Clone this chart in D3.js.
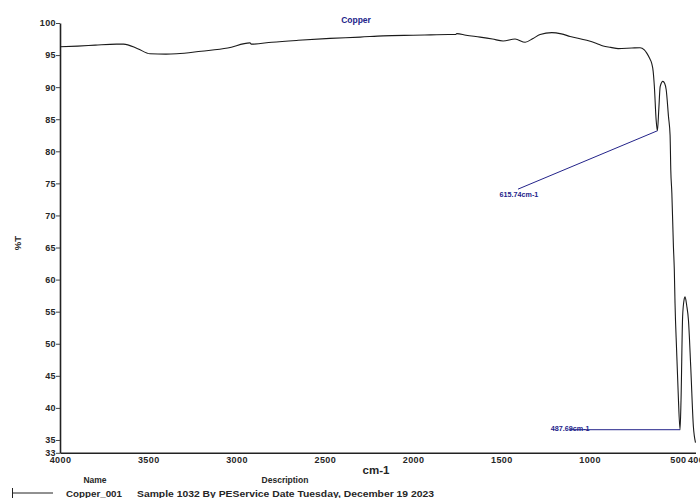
<!DOCTYPE html>
<html>
<head>
<meta charset="utf-8">
<script src="https://cdn.jsdelivr.net/npm/d3@7"></script>
<style>
  html, body { margin: 0; padding: 0; background: #fff; }
  svg { display: block; }
  text { font-family: "Liberation Sans", Arial, sans-serif; }
</style>
</head>
<body>
<svg id="chart" width="700" height="498"></svg>
<script>
// ---- data ----
const wavenumbers = [4000, 3900, 3800, 3680, 3640, 3560, 3490, 3400, 3339, 3200, 3050, 2924, 2915, 2800, 2650, 2470, 2300, 2170, 2000, 1900, 1800, 1760, 1752, 1700, 1620, 1550, 1490, 1422, 1365, 1320, 1280, 1214, 1160, 1110, 1016, 960, 923, 880, 838, 760, 714, 690, 676, 660, 648, 640, 633, 623, 615.74, 608, 600, 585, 575, 566, 553, 544, 540, 534, 525, 520, 516, 507, 498, 487.69, 482, 473, 465, 459, 450, 440, 427, 412, 400];
const transmittance = [96.3, 96.4, 96.55, 96.7, 96.7, 96.0, 95.2, 95.15, 95.2, 95.6, 96.1, 96.9, 96.7, 97.0, 97.3, 97.6, 97.8, 98.0, 98.1, 98.15, 98.2, 98.2, 98.35, 98.1, 97.8, 97.5, 97.2, 97.5, 97.0, 97.6, 98.2, 98.5, 98.3, 97.9, 97.3, 96.8, 96.4, 96.2, 96.0, 96.1, 96.15, 95.8, 95.3, 94.5, 93.7, 92.5, 90.1, 84.9, 83.2, 86.5, 90.1, 90.9, 90.6, 89.6, 85.4, 82.5, 77.1, 73.5, 65.1, 61.5, 56.3, 49.0, 42.3, 36.6, 41.2, 54.2, 56.8, 57.3, 56.0, 53.7, 46.4, 37.1, 34.6];
const yTicks = [33, 35, 40, 45, 50, 55, 60, 65, 70, 75, 80, 85, 90, 95, 100];
const xTicks = [4000, 3500, 3000, 2500, 2000, 1500, 1000, 500, 400];
const peakWavenumbers = [615.74, 487.69];
const peakValues = [83.2, 36.6];
const peakLabels = ["615.74cm-1", "487.69cm-1"];
const peakLabelWavenumbers = [1400, 1110];
const peakLabelValues = [74.1, 36.6];
const chartTitle = "Copper";
const legendNames = ["Copper_001"];
const legendDescriptions = ["Sample 1032 By PEService Date Tuesday, December 19 2023"];

// ---- layout ----
const svg = d3.select("#chart");
const x = d3.scaleLinear().domain([4000, 400]).range([60, 695.5]);
const y = d3.scaleLinear().domain([33, 100]).range([452.8, 23]);
const blue = "#23238a";
const ink = "#262626";

// axes
const yAxis = d3.axisLeft(y).tickValues(yTicks).tickSize(4).tickSizeOuter(0).tickFormat(d3.format("d"));
const gy = svg.append("g").attr("transform", "translate(60,0)").call(yAxis);
gy.select(".domain").attr("stroke", "#222").attr("stroke-width", 1.6);
gy.selectAll(".tick line").attr("stroke", "#444");
gy.selectAll(".tick text").attr("font-size", 9).attr("font-weight", "bold").attr("fill", ink)
  .attr("x", -4).attr("letter-spacing", 0.4);

const xAxis = d3.axisBottom(x).tickValues(xTicks).tickSize(0).tickSizeOuter(0).tickFormat(d3.format("d"));
const gx = svg.append("g").attr("transform", "translate(0,452.8)").call(xAxis);
gx.select(".domain").attr("stroke", "#222").attr("stroke-width", 1.6);
gx.selectAll(".tick text").attr("font-size", 9).attr("font-weight", "bold").attr("fill", ink)
  .attr("dy", "0.7em").attr("y", 4).attr("letter-spacing", 0.4);

// curve
const pts = wavenumbers.map((w, i) => [w, transmittance[i]]);
const line = d3.line().x(d => x(d[0])).y(d => y(d[1])).curve(d3.curveMonotoneX);
svg.append("path").datum(pts).attr("d", line)
  .attr("fill", "none").attr("stroke", "#1a1a1a").attr("stroke-width", 1.1);

// peak annotations
peakWavenumbers.forEach((w, i) => {
  const px = x(w), py = y(peakValues[i]);
  const lx = x(peakLabelWavenumbers[i]), ly = y(peakLabelValues[i]);
  svg.append("line").attr("x1", lx - 1).attr("y1", ly).attr("x2", px).attr("y2", py)
    .attr("stroke", blue).attr("stroke-width", 1);
  svg.append("text").attr("x", lx).attr("y", i === 0 ? ly + 8 : ly + 1).attr("text-anchor", "middle")
    .attr("font-size", 7.2).attr("font-weight", "bold").attr("fill", blue).text(peakLabels[i]);
});

// title
svg.append("text").attr("x", 356).attr("y", 23).attr("text-anchor", "middle")
  .attr("font-size", 8.5).attr("font-weight", "bold").attr("fill", blue).text(chartTitle);

// axis labels
svg.append("text").attr("transform", "translate(21,243) rotate(-90)").attr("text-anchor", "middle")
  .attr("font-size", 9.5).attr("font-weight", "bold").attr("fill", ink).text("%T");
svg.append("text").attr("x", 376).attr("y", 474).attr("text-anchor", "middle")
  .attr("font-size", 11.5).attr("font-weight", "bold").attr("fill", ink).text("cm-1");

// legend
svg.append("text").attr("x", 95).attr("y", 483).attr("text-anchor", "middle")
  .attr("font-size", 8.5).attr("font-weight", "bold").attr("fill", ink).text("Name");
svg.append("text").attr("x", 285).attr("y", 483).attr("text-anchor", "middle")
  .attr("font-size", 8.5).attr("font-weight", "bold").attr("fill", ink).text("Description");
legendNames.forEach((n, i) => {
  const ly = 493 + i * 12;
  svg.append("line").attr("x1", 12).attr("x2", 53).attr("y1", ly).attr("y2", ly)
    .attr("stroke", "#222").attr("stroke-width", 1);
  svg.append("line").attr("x1", 12.5).attr("x2", 12.5).attr("y1", ly - 5).attr("y2", ly + 5)
    .attr("stroke", "#222").attr("stroke-width", 1);
  svg.append("text").attr("x", 66).attr("y", ly + 3.5).attr("font-size", 9).attr("font-weight", "bold")
    .attr("fill", ink).attr("textLength", 56).attr("lengthAdjust", "spacingAndGlyphs").text(n);
  svg.append("text").attr("x", 137).attr("y", ly + 3.5).attr("font-size", 9).attr("font-weight", "bold")
    .attr("fill", ink).attr("textLength", 297).attr("lengthAdjust", "spacingAndGlyphs").text(legendDescriptions[i]);
});
</script>
</body>
</html>
